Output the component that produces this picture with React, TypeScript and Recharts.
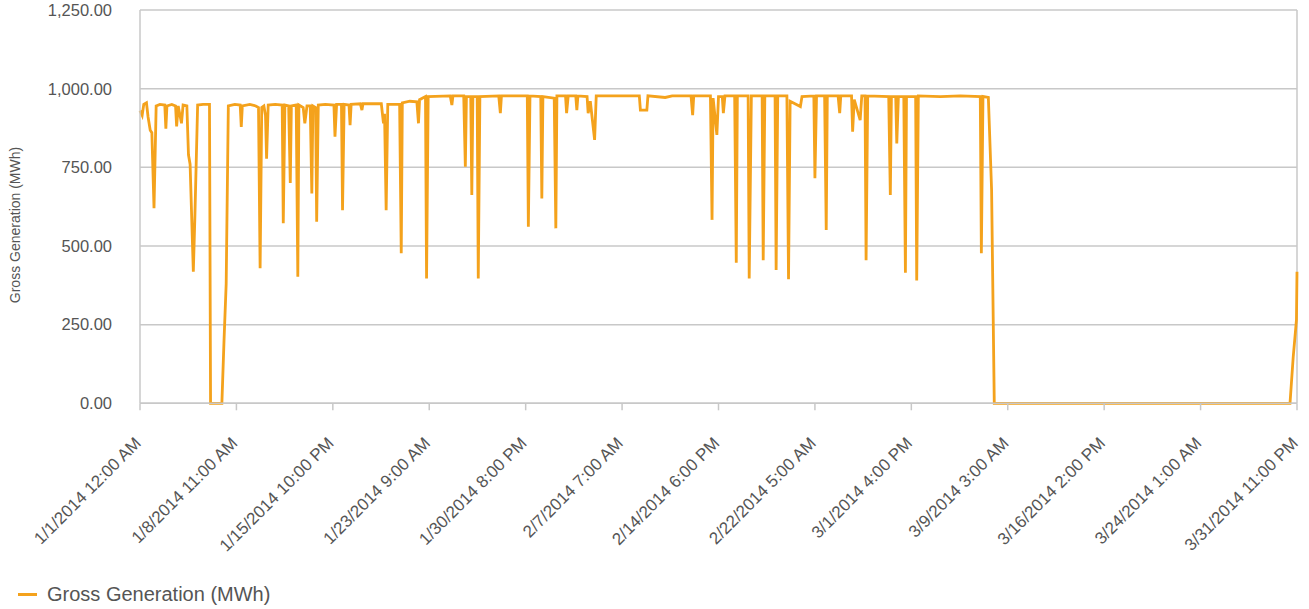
import { LineChart, Line, XAxis, YAxis, CartesianGrid, ReferenceLine } from 'recharts';

// hour offsets from 1/1/2014 12:00 AM (axis runs 0..2148) and gross generation
const hours = [
  0, 4, 7, 12, 15, 19, 22, 26, 30, 37, 46, 48, 50, 59, 66, 68, 71, 77, 80, 87,
  90, 93, 99, 102, 107, 117, 129, 131, 152, 156, 160, 164, 176, 186, 188, 190, 204, 215, 220, 223,
  226, 230, 233, 235, 238, 251, 264, 266, 269, 276, 279, 281, 290, 293, 295, 303, 306, 310, 316, 319,
  321, 326, 328, 331, 344, 360, 362, 365, 374, 376, 379, 388, 390, 392, 409, 412, 414, 448, 452, 454,
  457, 460, 482, 485, 487, 501, 514, 517, 519, 530, 532, 535, 576, 579, 581, 601, 604, 606, 614, 616,
  618, 626, 628, 631, 666, 669, 671, 719, 721, 724, 744, 746, 748, 769, 772, 774, 790, 792, 795, 809,
  811, 813, 830, 832, 836, 844, 847, 927, 929, 941, 943, 975, 988, 1023, 1026, 1028, 1059, 1062, 1064, 1071,
  1074, 1081, 1083, 1086, 1104, 1107, 1109, 1129, 1131, 1135, 1155, 1157, 1160, 1179, 1181, 1184, 1201, 1204, 1207, 1226,
  1229, 1251, 1253, 1256, 1271, 1274, 1276, 1296, 1299, 1301, 1321, 1323, 1326, 1337, 1340, 1346, 1348, 1351, 1390, 1393,
  1395, 1403, 1405, 1408, 1418, 1421, 1423, 1440, 1442, 1445, 1486, 1523, 1560, 1562, 1565, 1575, 1581, 1586, 2135, 2141,
  2147, 2148,
];

const mwh = [
  930, 915, 950, 955, 910, 868, 860, 620, 945, 950, 948, 873, 945, 950, 945, 880, 945, 890, 948, 945,
  790, 760, 418, 600, 948, 950, 950, 0, 0, 200, 380, 945, 950, 948, 878, 945, 950, 945, 940, 429,
  940, 945, 915, 777, 948, 950, 948, 572, 948, 945, 700, 945, 948, 402, 948, 940, 890, 945, 945, 667,
  945, 940, 577, 948, 950, 948, 847, 950, 950, 614, 950, 948, 884, 950, 952, 932, 952, 952, 890, 920,
  614, 950, 950, 477, 955, 960, 958, 890, 965, 975, 397, 975, 977, 948, 977, 977, 752, 975, 975, 662,
  975, 975, 397, 975, 977, 922, 977, 977, 561, 977, 975, 651, 975, 970, 556, 977, 977, 922, 977, 977,
  932, 977, 975, 922, 960, 837, 977, 977, 932, 932, 977, 972, 977, 977, 916, 977, 977, 583, 970, 853,
  975, 975, 922, 977, 977, 447, 977, 977, 397, 977, 977, 455, 977, 977, 424, 977, 977, 394, 960, 943,
  975, 977, 715, 977, 977, 551, 977, 977, 922, 977, 977, 863, 965, 900, 977, 977, 455, 977, 975, 662,
  975, 975, 826, 975, 975, 415, 975, 975, 390, 977, 975, 977, 975, 477, 975, 972, 678, 0, 0, 148,
  265, 418,
];

const tickHours = [0, 179, 358, 537, 716, 895, 1074, 1253, 1432, 1611, 1790, 1969, 2148];
const tickLabels = [
  '1/1/2014 12:00 AM', '1/8/2014 11:00 AM', '1/15/2014 10:00 PM', '1/23/2014 9:00 AM',
  '1/30/2014 8:00 PM', '2/7/2014 7:00 AM', '2/14/2014 6:00 PM', '2/22/2014 5:00 AM',
  '3/1/2014 4:00 PM', '3/9/2014 3:00 AM', '3/16/2014 2:00 PM', '3/24/2014 1:00 AM',
  '3/31/2014 11:00 PM',
];
const yTicks = [0, 250, 500, 750, 1000, 1250];

const data = hours.map((h, i) => ({ hour: h, mwh: mwh[i] }));

const FONT = '"Liberation Sans", Arial, sans-serif';
const ORANGE = '#f4a21c';
const GRID = '#c8c8c8';

function DateTick({ x, y, payload }: any) {
  const label = tickLabels[tickHours.indexOf(payload.value)] ?? '';
  return (
    <g transform={`translate(${x + 2},${y + 32})`}>
      <text transform="rotate(-45)" textAnchor="end" fill="#555" fontSize={17} fontFamily={FONT}>
        {label}
      </text>
    </g>
  );
}

const fmt = (v: number) =>
  v.toLocaleString('en-US', { minimumFractionDigits: 2, maximumFractionDigits: 2 });

export default function App() {
  return (
    <div style={{ position: 'absolute', left: 0, top: 0, width: 1309, height: 609, background: '#fff' }}>
      <LineChart
        width={1309}
        height={609}
        data={data}
        margin={{ top: 10, right: 12, left: 0, bottom: 0 }}
        style={{ fontFamily: FONT }}
      >
        <CartesianGrid vertical={false} stroke={GRID} strokeWidth={1.5} />
        <XAxis
          dataKey="hour"
          type="number"
          domain={[0, 2148]}
          ticks={tickHours}
          interval={0}
          height={205.7}
          stroke={GRID}
          strokeWidth={1.5}
          tickSize={7}
          tick={<DateTick />}
        />
        <YAxis
          type="number"
          domain={[0, 1250]}
          ticks={yTicks}
          width={140}
          stroke={GRID}
          strokeWidth={1.5}
          tickLine={false}
          tickSize={0}
          tickMargin={28}
          tickFormatter={fmt}
          tick={{ fill: '#555', fontSize: 16.5, fontFamily: FONT }}
          label={() => (
            <text
              x={15}
              y={225}
              transform="rotate(-90 15 225)"
              textAnchor="middle"
              dominantBaseline="central"
              fill="#555"
              fontSize={14}
              fontFamily={FONT}
            >
              Gross Generation (MWh)
            </text>
          )}
        />
        <ReferenceLine x={2148} stroke={GRID} strokeWidth={1.5} ifOverflow="extendDomain" />
        <Line
          type="linear"
          dataKey="mwh"
          stroke={ORANGE}
          strokeWidth={2.8}
          dot={false}
          isAnimationActive={false}
        />
      </LineChart>
      <div
        style={{
          position: 'absolute',
          left: 18,
          top: 583,
          display: 'flex',
          alignItems: 'center',
          fontFamily: FONT,
          fontSize: 20,
          color: '#555',
        }}
      >
        <span style={{ display: 'inline-block', width: 19, height: 3, background: ORANGE, marginRight: 10 }} />
        Gross Generation (MWh)
      </div>
    </div>
  );
}
